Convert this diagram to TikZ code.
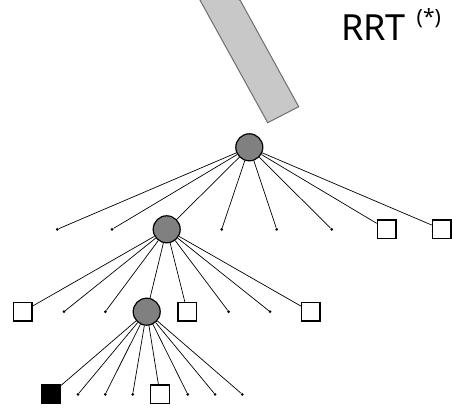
\documentclass[tikz,border=0pt]{standalone}
\usepackage{fontspec}
\setmainfont{Noto Sans}
\begin{document}
\begin{tikzpicture}[x=1pt,y=-1pt,
  inner/.style={circle,draw=black,line width=1.2pt,fill={rgb,255:red,128;green,128;blue,128},minimum size=27pt,inner sep=0pt},
  leaf/.style={circle,fill=black,minimum size=3pt,inner sep=0pt},
  goal/.style={rectangle,draw=black,line width=1.4pt,fill=white,minimum size=18.5pt,inner sep=0pt},
  found/.style={goal,fill=black},
  edge/.style={draw=black,line width=0.7pt}]
\useasboundingbox (0,0) rectangle (452,407);
% robot arm bar
\draw[draw={rgb,255:red,110;green,110;blue,110},line width=1pt,fill={rgb,255:red,200;green,200;blue,200}]
  (267.7,122.7) -- (298.7,106.7) -- (240.3,0.5) -- (205,-20) -- (193.3,-12) -- cycle;
\node[anchor=base west,font=\fontsize{36}{40}\selectfont,inner sep=0pt] (lbl) at (341,40.5) {RRT};
\node[anchor=base west,font=\fontsize{21}{24}\selectfont,inner sep=0pt] (sup) at (416.5,24.5) {(*)};
% level 0
\node[inner] (r) at (249.3,147.3) {};
% level 1
\node[leaf] (a1) at (57.3,229.3) {};
\node[leaf] (a2) at (112,229.3) {};
\node[inner] (a3) at (166.7,229.3) {};
\node[leaf] (a4) at (221.7,229.3) {};
\node[leaf] (a5) at (276.7,229.3) {};
\node[leaf] (a6) at (331.7,229.3) {};
\node[goal] (a7) at (386.7,229.3) {};
\node[goal] (a8) at (441.7,229.3) {};
% level 2
\node[goal] (b1) at (22.7,311.7) {};
\node[leaf] (b2) at (64,311.7) {};
\node[leaf] (b3) at (105.3,311.7) {};
\node[inner] (b4) at (146.7,311.7) {};
\node[goal] (b5) at (187.3,311.7) {};
\node[leaf] (b6) at (228.7,311.7) {};
\node[leaf] (b7) at (270,311.7) {};
\node[goal] (b8) at (310.7,311.7) {};
% level 3
\node[found] (c1) at (50.7,394.3) {};
\node[leaf] (c2) at (78,394.3) {};
\node[leaf] (c3) at (105.3,394.3) {};
\node[leaf] (c4) at (132.7,394.3) {};
\node[goal] (c5) at (160,394.3) {};
\node[leaf] (c6) at (187.7,394.3) {};
\node[leaf] (c7) at (215,394.3) {};
\node[leaf] (c8) at (242.3,394.3) {};
\foreach \i in {1,...,8} {
  \path[edge] (r) -- (a\i);
  \path[edge] (a3) -- (b\i);
  \path[edge] (b4) -- (c\i);
}
\end{tikzpicture}
\end{document}
